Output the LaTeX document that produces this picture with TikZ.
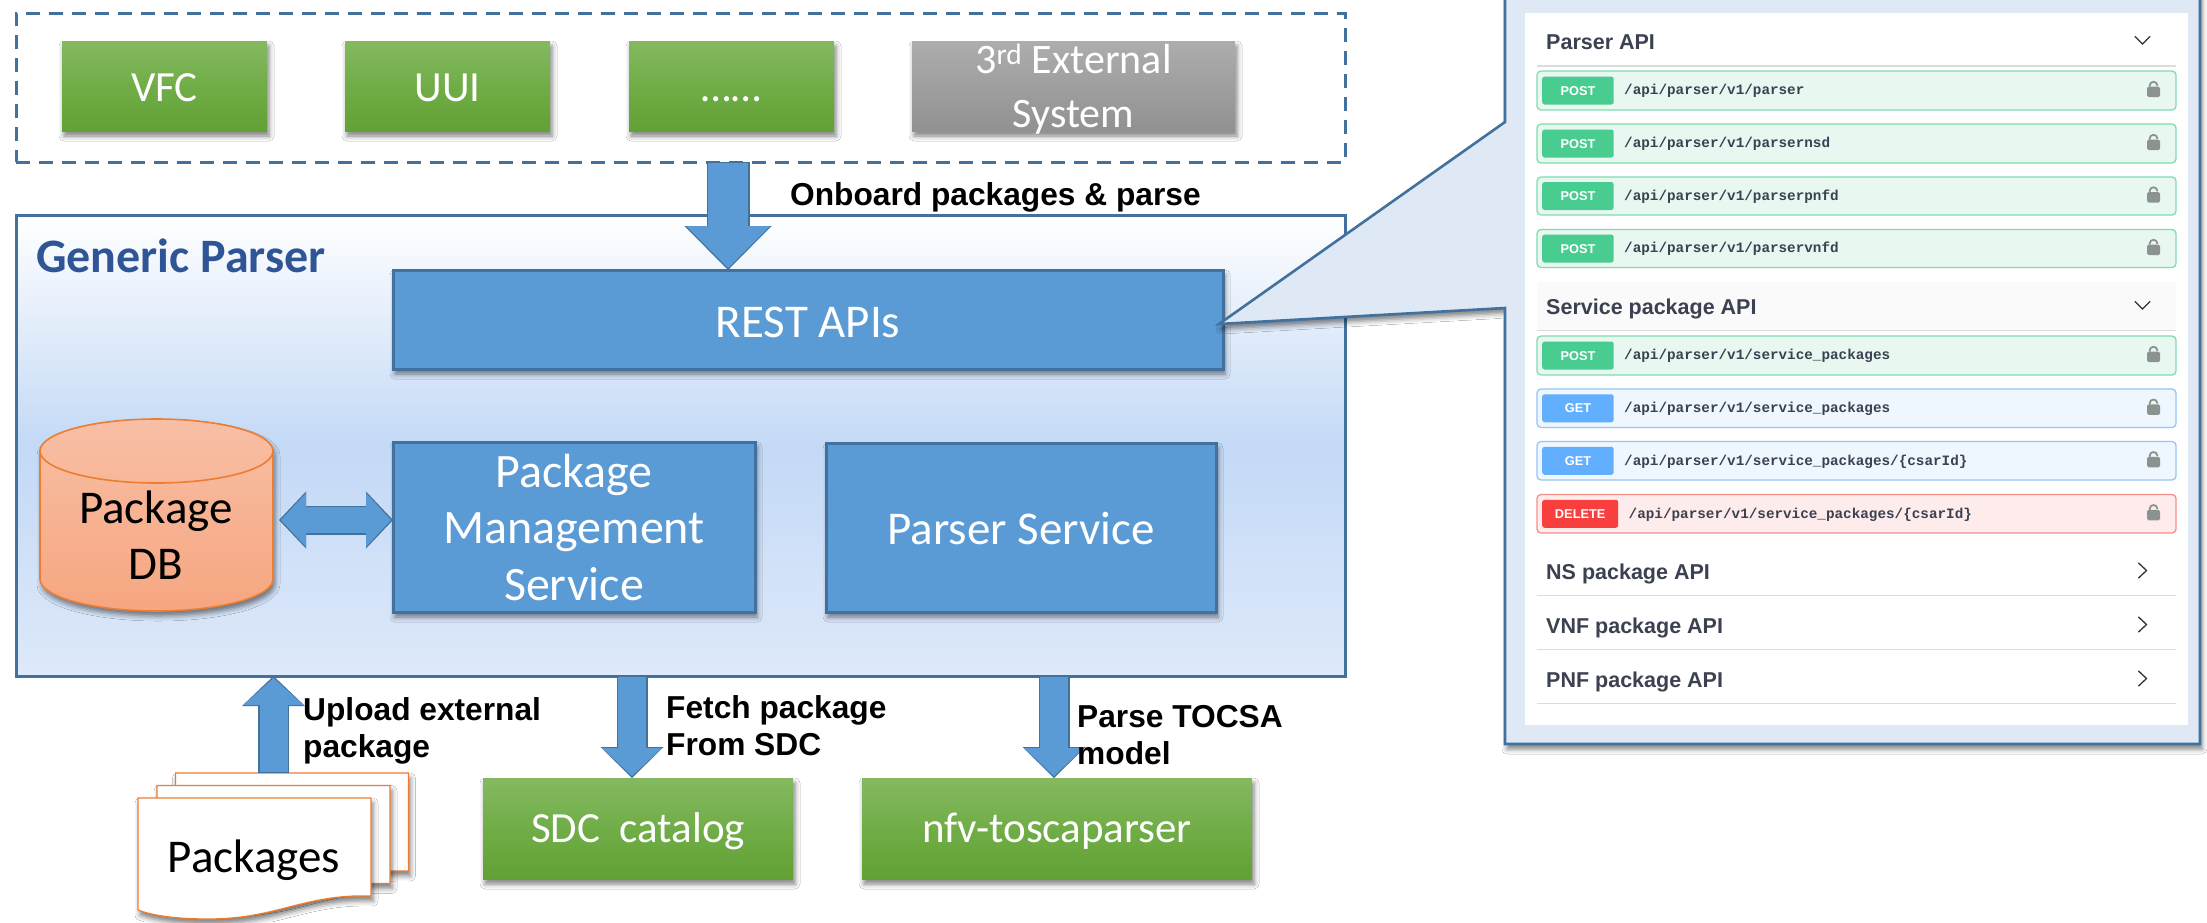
\documentclass[tikz,border=0pt]{standalone}
\usepackage{fontspec}
\setmainfont{Carlito}
\setsansfont{Liberation Sans}
\setmonofont{Liberation Mono}
\usetikzlibrary{arrows.meta,shadows.blur,calc}
\definecolor{bfill}{HTML}{5B9BD5}
\definecolor{bline}{HTML}{41719C}
\definecolor{orangeline}{HTML}{ED7D31}
\definecolor{swtext}{HTML}{3B4151}
\definecolor{sepc}{HTML}{DADCDE}
\definecolor{gtop}{RGB}{133,185,97}
\definecolor{gmid}{RGB}{112,173,71}
\definecolor{gbot}{RGB}{98,161,53}
\definecolor{graytop}{RGB}{173,173,173}
\definecolor{graybot}{RGB}{145,145,145}
\definecolor{framemid}{RGB}{195,217,246}
\definecolor{framebot}{RGB}{222,233,250}
\definecolor{cyltop}{RGB}{248,191,165}
\definecolor{cylbot}{RGB}{246,166,128}
\definecolor{titlec}{RGB}{47,85,151}
\definecolor{panelc}{RGB}{222,233,245}
\definecolor{postline}{RGB}{128,220,176}
\definecolor{postfill}{RGB}{232,247,240}
\definecolor{postbadge}{RGB}{73,204,144}
\definecolor{getline}{RGB}{148,198,248}
\definecolor{getfill}{RGB}{238,246,254}
\definecolor{getbadge}{RGB}{97,175,254}
\definecolor{delline}{RGB}{247,140,140}
\definecolor{delfill}{RGB}{254,235,235}
\definecolor{delbadge}{RGB}{249,62,62}
\definecolor{chevc}{RGB}{50,50,50}
\definecolor{lockc}{RGB}{140,146,144}
\definecolor{headbg}{RGB}{250,250,250}
\tikzset{
  softshadow/.style={blur shadow={shadow xshift=2pt,shadow yshift=-5pt,shadow blur radius=5pt,shadow opacity=50}},
  bigtext/.style={font=\fontsize{47}{56.5}\selectfont,text=white,align=center,inner sep=0pt},
  smalltext/.style={font=\fontsize{43}{53.5}\selectfont,text=white,align=center,inner sep=0pt},
  greenbox/.style={rectangle,softshadow,top color=gtop,bottom color=gbot,middle color=gmid,smalltext,outer sep=0pt},
  graybox/.style={rectangle,softshadow,top color=graytop,bottom color=graybot,smalltext,outer sep=0pt},
  bluebox/.style={rectangle,softshadow,draw=bline,line width=3pt,fill=bfill,bigtext,outer sep=0pt},
  caption/.style={font=\sffamily\bfseries\fontsize{31.7}{37.5}\selectfont,text=black,align=left,inner sep=0pt},
  blockarrow/.style n args={6}{draw=bline,line width=#1pt,-{Triangle[length=#3pt,width=#2pt,line width=0pt]},
    postaction={draw=bfill,line width=#4pt,shorten >=2pt,shorten <=1pt,-{Triangle[length=#6pt,width=#5pt,line width=0pt]}}},
  bothblock/.style n args={6}{draw=bline,line width=#1pt,{Triangle[length=#3pt,width=#2pt,line width=0pt]}-{Triangle[length=#3pt,width=#2pt,line width=0pt]},
    postaction={draw=bfill,line width=#4pt,shorten >=2pt,shorten <=2pt,{Triangle[length=#6pt,width=#5pt,line width=0pt]}-{Triangle[length=#6pt,width=#5pt,line width=0pt]}}},
  sheet/.style={fill=white,draw=orangeline,line width=1.3pt,softshadow},
  tagtext/.style={font=\sffamily\bfseries\fontsize{21.5}{26}\selectfont,text=swtext,inner sep=0pt,anchor=base west},
  pathtext/.style={font=\ttfamily\bfseries\fontsize{14.3}{17}\selectfont,text=swtext,inner sep=0pt,anchor=base west},
  badgebase/.style={rectangle,rounded corners=2.5pt,font=\sffamily\bfseries\fontsize{12.8}{15}\selectfont,text=white,minimum height=28pt,inner sep=0pt,text height=9pt,text depth=0pt,anchor=west},
  rowbase/.style={rectangle,rounded corners=4pt,line width=1.3pt,minimum width=639pt},
  rowpost/.style={rowbase,draw=postline,fill=postfill},
  rowget/.style={rowbase,draw=getline,fill=getfill},
  rowdelete/.style={rowbase,draw=delline,fill=delfill},
  badgepost/.style={badgebase,fill=postbadge,minimum width=71.5pt},
  badgeget/.style={badgebase,fill=getbadge,minimum width=71.5pt},
  badgedelete/.style={badgebase,fill=delbadge,minimum width=76pt},
  sepline/.style={draw=sepc,line width=1.2pt},
  chev/.style={draw=chevc,line width=1.3pt,line cap=round,line join=miter},
  lockicon/.pic={
    \fill[lockc,rounded corners=1.5pt] (-6.5,-3.8) rectangle (6.5,6.5);
    \draw[lockc,line width=1.8pt] (-3.7,-3.8) -- (-3.7,-5.4) arc[start angle=180,end angle=360,x radius=3.7,y radius=3.3] -- (3.7,-4.6);
  },
  docsheet/.pic={
    \path[sheet] (0,0) -- (233,0) -- (233,98) .. controls (165,96) and (140,121) .. (70,121) .. controls (40,121) and (15,118) .. (0,112) -- cycle;
  },
}
\newcommand\apirow[7]{%
  \node[row#4,minimum height={(#3-#2)*1pt}] (#1) at (1856.5,{(#2+#3)/2}) {};
  \node[badge#4] (#1badge) at (1542,{(#2+#3)/2}) {#5};
  \node[pathtext] (#1path) at (#6,{(#2+#3)/2+4.3}) {#7};
  \pic at (2153.5,{(#2+#3)/2}) {lockicon};
}
\begin{document}
\begin{tikzpicture}[x=1pt,y=-1pt]
\useasboundingbox (0,0) rectangle (2207,922);
\fill[white] (0,0) rectangle (2207,922);

% top group
\node[draw=bline,line width=3pt,dash pattern=on 14pt off 9pt,minimum width=1329pt,minimum height=149pt,outer sep=0pt] (ext) at (680.5,87.5) {};
\node[greenbox,minimum width=205pt,minimum height=90pt,text height=30pt,text depth=0pt] (vfc) at (164.5,86) {VFC};
\node[greenbox,minimum width=205pt,minimum height=90pt,text height=30pt,text depth=0pt] (uui) at (447.5,86) {UUI};
\node[greenbox,minimum width=205pt,minimum height=90pt,text height=30pt,text depth=0pt] (more) at (731.5,86) {……};
\node[graybox,minimum width=323pt,minimum height=90pt,label={[smalltext,font=\fontsize{42}{53.5}\selectfont,yshift=-3pt]center:3\textsuperscript{rd} External\\System}] (third) at (1073.5,86) {};

% parser frame
\node[rectangle,draw=bline,line width=3pt,top color=white,bottom color=framebot,middle color=framemid,minimum width=1329pt,minimum height=461pt,outer sep=0pt] (parser) at (680.5,445.5) {};
\node[font=\bfseries\fontsize{48}{56}\selectfont,text=titlec,inner sep=0pt,anchor=west] (ptitle) at (36,256) {Generic Parser};
\node[bluebox,minimum width=830pt,minimum height=99pt,text height=35pt,text depth=0pt] (rest) at (808,319.5) {REST APIs};
\node[bluebox,minimum width=362pt,minimum height=170pt,font=\fontsize{48}{56.5}\selectfont] (pms) at (574,527) {Package\\Management\\Service};
\node[bluebox,minimum width=390pt,minimum height=169pt,text height=33pt,text depth=0pt] (svc) at (1021,527.5) {Parser Service};
\path[top color=cyltop,bottom color=cylbot,draw=orangeline,line width=1.6pt,softshadow]
  (40,451) arc[start angle=180,end angle=360,x radius=116.5,y radius=32] -- (273,579)
  arc[start angle=0,end angle=180,x radius=116.5,y radius=32] -- cycle;
\draw[orangeline,line width=1.6pt] (40,451) arc[start angle=180,end angle=0,x radius=116.5,y radius=32];
\node[bigtext,text=black] (db) at (156,535) {Package\\DB};

% lower boxes
\node[greenbox,minimum width=310pt,minimum height=101pt,text height=30pt,text depth=2pt] (sdc) at (638,828.5) {SDC\ \ catalog};
\node[greenbox,minimum width=390pt,minimum height=101pt,text height=30pt,text depth=2pt] (nfv) at (1057,828.5) {nfv-toscaparser};

% packages stack
\pic at (175.5,773) {docsheet};
\pic at (157,785.5) {docsheet};
\pic at (138,798) {docsheet};
\coordinate (stacktop) at (273.5,773);
\node[bigtext,text=black] (pkgs) at (254,860) {Packages};

% block arrows
\coordinate (onbx) at (728,0);
\coordinate (upx) at (273.5,0);
\coordinate (fetchx) at (632,0);
\coordinate (parsex) at (1054,0);
\draw[blockarrow={43}{87}{44}{40}{84}{42}] (ext.south -| onbx) -- (rest.north -| onbx);
\draw[blockarrow={31}{63}{30}{28}{60}{27}] (stacktop) -- (parser.south -| upx);
\draw[blockarrow={31}{63}{31}{28}{60}{28}] (parser.south -| fetchx) -- (sdc.north -| fetchx);
\draw[blockarrow={31}{63}{31}{28}{60}{28}] (parser.south -| parsex) -- (nfv.north -| parsex);
\coordinate (dbr) at (279,520);
\draw[bothblock={29}{57}{27}{26}{54}{25}] (dbr) -- (pms.west |- dbr);

% captions
\node[caption,anchor=west] (c1) at (790,197) {Onboard packages \& parse};
\node[caption,anchor=west] (c2) at (303,731) {Upload external\\package};
\node[caption,anchor=west] (c3) at (666,725.5) {Fetch package\\From SDC};
\node[caption,anchor=west] (c4) at (1077,735) {Parse TOCSA\\model};

% API panel
\path[fill=panelc,draw=bline,line width=2.6pt,softshadow]
  (1505,-10) -- (1505,122) -- (1219,324) -- (1505,308) -- (1505,744) -- (2200,744) -- (2200,-10) -- cycle;
\fill[white] (1525,13) rectangle (2188,725);

\node[tagtext] (tparser) at (1546,49) {Parser API};
\draw[chev] (2135,36.5) -- (2142.5,44) -- (2150,36.5);
\draw[sepline] (1537,66) -- (2176,66);
\apirow{r1}{71}{110}{post}{POST}{1624}{/api/parser/v1/parser}
\apirow{r2}{124}{163}{post}{POST}{1624}{/api/parser/v1/parsernsd}
\apirow{r3}{177}{215}{post}{POST}{1624}{/api/parser/v1/parserpnfd}
\apirow{r4}{229.5}{267.5}{post}{POST}{1624}{/api/parser/v1/parservnfd}
\fill[headbg] (1537,282) rectangle (2176,330);
\node[tagtext] (tservice) at (1546,314) {Service package API};
\draw[chev] (2135,301.5) -- (2142.5,309) -- (2150,301.5);
\draw[sepline] (1537,330.5) -- (2176,330.5);
\apirow{r5}{336}{375}{post}{POST}{1624}{/api/parser/v1/service\_packages}
\apirow{r6}{389}{427.5}{get}{GET}{1624}{/api/parser/v1/service\_packages}
\apirow{r7}{441.5}{480}{get}{GET}{1624}{/api/parser/v1/service\_packages/\{csarId\}}
\apirow{r8}{494.5}{533}{delete}{DELETE}{1628.5}{/api/parser/v1/service\_packages/\{csarId\}}
\node[tagtext] (tns) at (1546,579.5) {NS package API};
\draw[chev] (2138.5,563) -- (2146.5,570.5) -- (2138.5,578);
\draw[sepline] (1537,595.5) -- (2176,595.5);
\node[tagtext] (tvnf) at (1546,633.5) {VNF package API};
\draw[chev] (2138.5,617) -- (2146.5,624.5) -- (2138.5,632);
\draw[sepline] (1537,649.5) -- (2176,649.5);
\node[tagtext] (tpnf) at (1546,687.5) {PNF package API};
\draw[chev] (2138.5,671) -- (2146.5,678.5) -- (2138.5,686);
\draw[sepline] (1537,703.5) -- (2176,703.5);
\end{tikzpicture}
\end{document}
